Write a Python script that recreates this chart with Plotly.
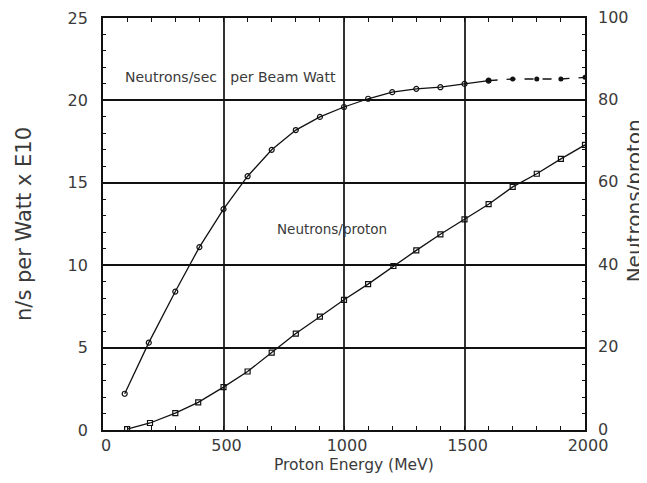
import plotly.graph_objects as go

# Neutrons/sec per beam Watt (left axis, x1E10)
energy_w = [90, 190, 300, 400, 500, 600, 700, 800, 900, 1000, 1100, 1200, 1300, 1400, 1500, 1600]
nsw = [2.2, 5.3, 8.4, 11.1, 13.4, 15.4, 17.0, 18.2, 19.0, 19.6, 20.1, 20.5, 20.7, 20.8, 21.0, 21.2]
energy_w_ext = [1600, 1700, 1800, 1900, 2000]
nsw_ext = [21.2, 21.3, 21.3, 21.3, 21.4]

# Neutrons per proton (right axis)
energy_p = [100, 195, 300, 395, 500, 600, 700, 800, 900, 1000, 1100, 1205, 1300, 1400, 1500, 1600, 1700, 1800, 1900, 2000]
npp = [0.2, 1.7, 4.1, 6.7, 10.4, 14.2, 18.8, 23.4, 27.5, 31.6, 35.4, 39.8, 43.6, 47.5, 51.1, 54.8, 59.0, 62.2, 65.8, 69.2]

x_ticks = [0, 500, 1000, 1500, 2000]
y_left_ticks = [0, 5, 10, 15, 20, 25]
y_right_ticks = [0, 20, 40, 60, 80, 100]

FONT = "DejaVu Sans, sans-serif"
TXT = "#3a3a3a"

fig = go.Figure()
fig.add_trace(go.Scatter(
    x=energy_w, y=nsw, mode="lines+markers",
    line=dict(color="#111", width=1.3),
    marker=dict(symbol="circle-open", size=5, color="#111", line=dict(width=1.2)),
    showlegend=False))
fig.add_trace(go.Scatter(
    x=energy_w_ext, y=nsw_ext, mode="lines+markers",
    line=dict(color="#111", width=1.3, dash="dash"),
    marker=dict(symbol="circle", size=5, color="#111"),
    showlegend=False))
fig.add_trace(go.Scatter(
    x=energy_p, y=npp, mode="lines+markers", yaxis="y2",
    line=dict(color="#111", width=1.3),
    marker=dict(symbol="square-open", size=5, color="#111", line=dict(width=1.2)),
    showlegend=False))

fig.add_annotation(x=530, y=21.4, xref="x", yref="y", text="Neutrons/sec   per Beam Watt",
                   showarrow=False, font=dict(family=FONT, size=14, color=TXT))
fig.add_annotation(x=950, y=12.2, xref="x", yref="y", text="Neutrons/proton",
                   showarrow=False, font=dict(family=FONT, size=13.5, color=TXT))

# axis titles
fig.add_annotation(x=0.52, y=0, xref="paper", yref="paper", xanchor="center", yanchor="middle",
                   yshift=-35, text="Proton Energy (MeV)",
                   showarrow=False, font=dict(family=FONT, size=15.5, color=TXT))
fig.add_annotation(x=0, y=0.5, xref="paper", yref="paper", xanchor="center", yanchor="middle",
                   xshift=-79, textangle=-90,
                   text="n/s per Watt x E10", showarrow=False, font=dict(family=FONT, size=21, color=TXT))
fig.add_annotation(x=1, y=0.555, xref="paper", yref="paper", xanchor="center", yanchor="middle",
                   xshift=49, textangle=-90,
                   text="Neutrons/proton", showarrow=False, font=dict(family=FONT, size=20, color=TXT))

fig.update_layout(
    width=647, height=483,
    margin=dict(l=95, r=70, t=10, b=61, autoexpand=False),
    paper_bgcolor="white", plot_bgcolor="white",
    font=dict(family=FONT, size=16, color=TXT),
    xaxis=dict(range=[0, 2000], tickvals=x_ticks, showgrid=True, gridcolor="#333", gridwidth=2.2,
               showline=True, linecolor="#111", linewidth=1.8, mirror="allticks", automargin=False,
               ticks="inside", ticklen=4, tickcolor="#111", zeroline=False, ticklabelstandoff=0,
               ticklabeloverflow="allow", ticklabelshift=3,
               minor=dict(dtick=100, ticks="inside", ticklen=3, tickcolor="#111", showgrid=False)),
    yaxis=dict(range=[0, 25], tickvals=y_left_ticks, showgrid=True, gridcolor="#111", gridwidth=1.5,
               showline=True, linecolor="#111", linewidth=1.8, mirror=True, automargin=False,
               ticks="inside", ticklen=4, tickcolor="#111", zeroline=False, ticklabelstandoff=10,
               ticklabeloverflow="allow",
               minor=dict(dtick=1, ticks="inside", ticklen=3, tickcolor="#111", showgrid=False)),
    yaxis2=dict(range=[0, 100], tickvals=y_right_ticks, overlaying="y", side="right",
                showgrid=False, zeroline=False, showline=False, automargin=False,
                ticks="inside", ticklen=4, tickcolor="#111", ticklabelstandoff=12,
                ticklabeloverflow="allow", ticklabelshift=-1,
                minor=dict(dtick=4, ticks="inside", ticklen=3, tickcolor="#111")),
)

fig.write_html("out.html")
